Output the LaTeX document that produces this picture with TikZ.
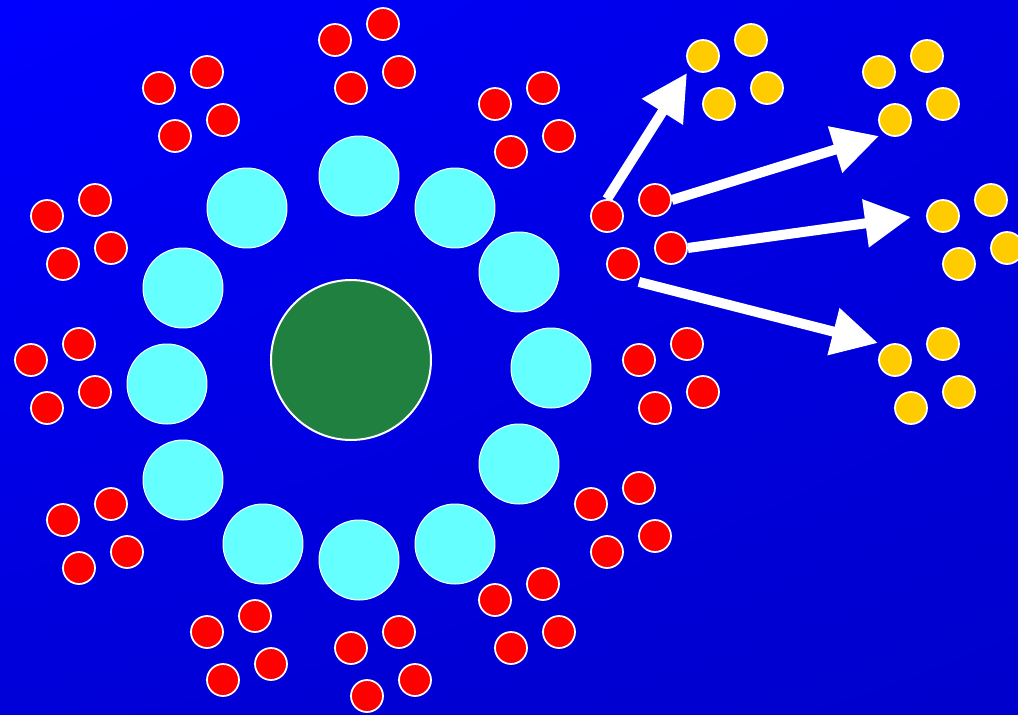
\documentclass[tikz,border=0pt]{standalone}
\usepackage{tikz}
\usetikzlibrary{arrows.meta, shadings}
\definecolor{bgTopLeft}{HTML}{0000FF}
\definecolor{bgTopRight}{HTML}{0000E2}
\definecolor{bgBottomLeft}{HTML}{0000D8}
\definecolor{bgBottomRight}{HTML}{0000CC}
\definecolor{hubGreen}{HTML}{208040}
\definecolor{ringCyan}{HTML}{66FFFF}
\definecolor{dotRed}{HTML}{FF0000}
\definecolor{dotYellow}{HTML}{FFCC00}

\tikzset{
  hub/.style={circle, fill=hubGreen, draw=white, line width=0.04cm, minimum size=3.2cm, inner sep=0pt},
  ring/.style={circle, fill=ringCyan, draw=white, line width=0.02cm, minimum size=1.6cm, inner sep=0pt},
  reddot/.style={circle, fill=dotRed, draw=white, line width=0.035cm, minimum size=0.64cm, inner sep=0pt},
  yellowdot/.style={circle, fill=dotYellow, draw=white, line width=0.035cm, minimum size=0.64cm, inner sep=0pt},
  bigarrow/.style={white, line width=0.2cm, -{Triangle[length=0.92cm, width=0.92cm]}}
}

\begin{document}
\begin{tikzpicture}[x=0.02cm, y=-0.02cm]
    % background
    \shade[upper left=bgTopLeft, upper right=bgTopRight, lower left=bgBottomLeft, lower right=bgBottomRight]
      (0,0) rectangle (1018,714);
    \useasboundingbox (0,0) rectangle (1018,714);
    % centre and ring
    \node[hub] (hub) at (351,360) {};
    \foreach \i/\x/\y in {1/359/176, 2/455/208, 3/519/272, 4/551/368, 5/519/464, 6/455/544,
                          7/359/560, 8/263/544, 9/183/480, 10/167/384, 11/183/288, 12/247/208} {
      \node[ring] (ring\i) at (\x,\y) {};
    }
    % red clusters
    \foreach \n/\x/\y in {1/335/40, 2/159/88, 3/495/104, 4/47/216, 5/31/360, 6/63/520,
                          7/207/632, 8/351/648, 9/495/600, 10/591/504, 11/639/360, 12/607/216} {
      \foreach \k/\dx/\dy in {a/0/0, b/48/-16, c/16/48, d/64/32}
        \node[reddot] (red\n\k) at (\x+\dx,\y+\dy) {};
    }
    % yellow clusters
    \foreach \n/\x/\y in {1/703/56, 2/879/72, 3/943/216, 4/895/360} {
      \foreach \k/\dx/\dy in {a/0/0, b/48/-16, c/16/48, d/64/32}
        \node[yellowdot] (yellow\n\k) at (\x+\dx,\y+\dy) {};
    }
    % arrow tips
    \coordinate (tip1) at (687,73);
    \coordinate (tip2) at (879,136);
    \coordinate (tip3) at (911,217);
    \coordinate (tip4) at (878,343);
    % arrows
    \draw[bigarrow] (red12a.north) -- (tip1);
    \draw[bigarrow] (red12b.east) -- (tip2);
    \draw[bigarrow] (red12d.east) -- (tip3);
    \draw[bigarrow] ([shift={(4,6)}]red12c.south east) -- (tip4);
\end{tikzpicture}
\end{document}
